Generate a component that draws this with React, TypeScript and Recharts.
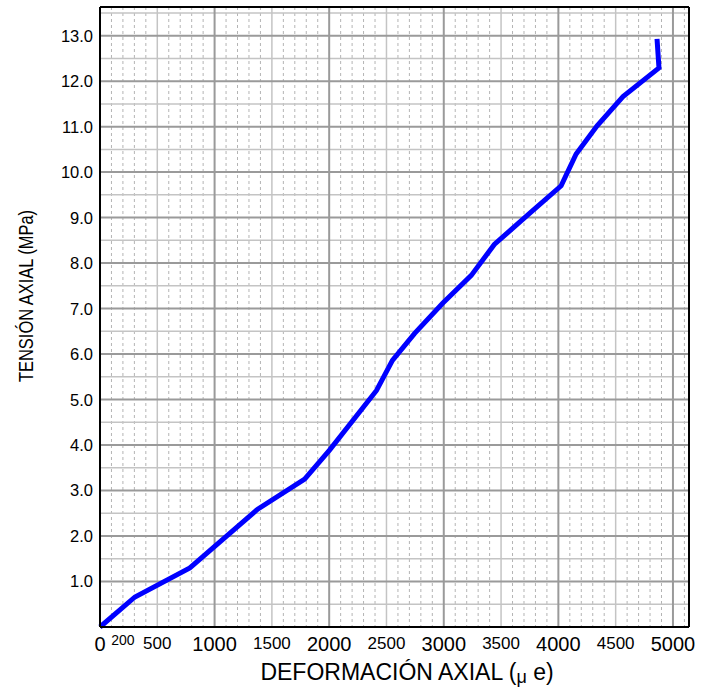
import React from "react";
import {
  LineChart,
  Line,
  XAxis,
  YAxis,
  CartesianGrid,
  ReferenceLine,
} from "recharts";

// deformación axial (µe) y tensión axial (MPa)
const strain = [
  0, 305, 784, 1376, 1786, 2003, 2413, 2552, 2744, 2988, 3240, 3441, 3746,
  4024, 4155, 4338, 4564, 4878, 4861,
];
const stress = [
  0, 0.66, 1.3, 2.59, 3.25, 3.89, 5.2, 5.86, 6.45, 7.11, 7.73, 8.41, 9.09,
  9.7, 10.4, 11.02, 11.66, 12.29, 12.93,
];

const xTicks = [0, 200, 500, 1000, 1500, 2000, 2500, 3000, 3500, 4000, 4500, 5000];
const bigXTicks = [0, 1000, 2000, 3000, 4000, 5000];
const yTicks = [1, 2, 3, 4, 5, 6, 7, 8, 9, 10, 11, 12, 13];

const xMax = 5140;
const yMax = 13.63;

const minorX = Array.from({ length: 51 }, (_, i) => (i + 1) * 100).filter(
  (v) => v % 500 !== 0
);
const halfX = [500, 1500, 2500, 3500, 4500];
const majorX = [1000, 2000, 3000, 4000, 5000];
const halfY = Array.from({ length: 14 }, (_, i) => i + 0.5);
const majorY = yTicks;

const data = strain.map((x, i) => ({ x, y: stress[i] }));

const FONT = "'Liberation Sans', Arial, sans-serif";

function XTick(props: any) {
  const { x, y, payload } = props;
  const v = payload.value;
  let size = 17;
  let dy = 14;
  if (bigXTicks.includes(v)) {
    size = 20;
    dy = 16;
  } else if (v === 200) {
    size = 14;
    dy = 10;
  }
  return (
    <text x={x} y={y + dy} textAnchor="middle" fontSize={size} fontFamily={FONT} fill="#000">
      {v}
    </text>
  );
}

function YTick(props: any) {
  const { x, y, payload } = props;
  return (
    <text x={x + 1} y={y} dy="0.36em" textAnchor="end" fontSize={16.5} fontFamily={FONT} fill="#000">
      {payload.value.toFixed(1)}
    </text>
  );
}

export default function App() {
  return (
    <div style={{ position: "absolute", left: 0, top: 0, background: "#fff" }}>
      <LineChart
        width={711}
        height={688}
        data={data}
        margin={{ top: 7, right: 22, bottom: 0, left: 0 }}
      >
        <CartesianGrid
          horizontal={false}
          verticalValues={minorX}
          stroke="#b4b4b4"
          strokeDasharray="3 3"
        />
        <CartesianGrid
          horizontalValues={halfY}
          verticalValues={halfX}
          stroke="#c4c4c4"
          strokeWidth={1.5}
        />
        <CartesianGrid
          horizontalValues={majorY}
          verticalValues={majorX}
          stroke="#9a9a9a"
          strokeWidth={2}
        />
        <XAxis
          dataKey="x"
          type="number"
          domain={[0, xMax]}
          ticks={xTicks}
          interval={0}
          tickLine={false}
          axisLine={{ stroke: "#000", strokeWidth: 2 }}
          tick={<XTick />}
          height={61}
        />
        <YAxis
          dataKey="y"
          type="number"
          domain={[0, yMax]}
          ticks={yTicks}
          interval={0}
          tickLine={false}
          axisLine={{ stroke: "#000", strokeWidth: 2 }}
          tick={<YTick />}
          width={100}
        />
        <ReferenceLine x={xMax} stroke="#000" strokeWidth={2} />
        <ReferenceLine y={yMax} stroke="#000" strokeWidth={2} />
        <Line
          type="linear"
          dataKey="y"
          stroke="#0000ff"
          strokeWidth={5}
          dot={false}
          isAnimationActive={false}
        />
        <text x={407} y={680} textAnchor="middle" fontSize={23} fontFamily={FONT} fill="#000">
          DEFORMACIÓN AXIAL (
          <tspan fontSize={18} dy={3}>μ</tspan>
          <tspan dy={-3}> e)</tspan>
        </text>
        <text
          x={33}
          y={296}
          transform="rotate(-90 33 296)"
          textAnchor="middle"
          fontSize={21}
          fontFamily={FONT}
          fill="#000"
          textLength={172}
          lengthAdjust="spacingAndGlyphs"
        >
          TENSIÓN AXIAL (MPa)
        </text>
      </LineChart>
    </div>
  );
}
